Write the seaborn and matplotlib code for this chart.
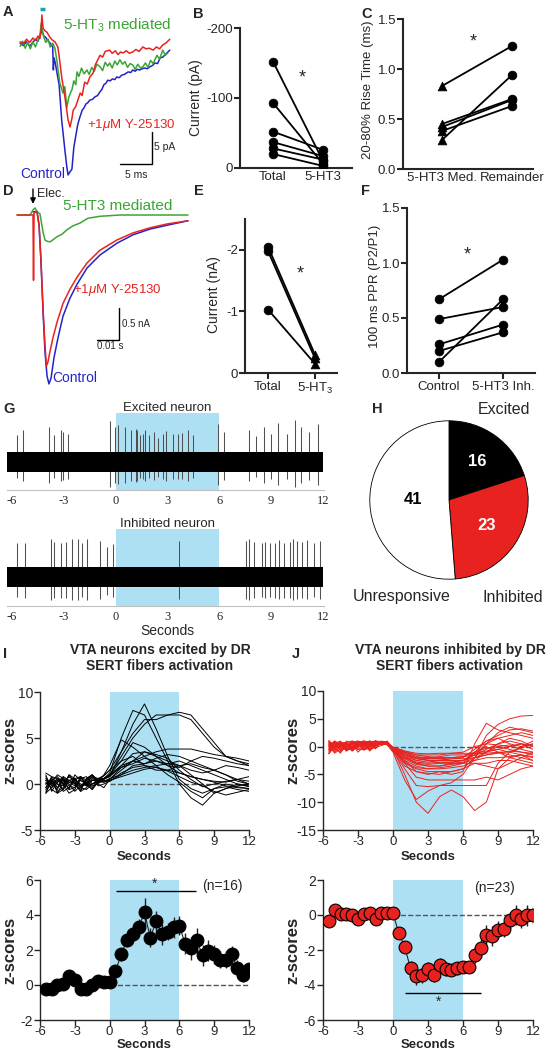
import numpy as np
import pandas as pd
import matplotlib
matplotlib.use("Agg")
import matplotlib.pyplot as plt
import seaborn as sns

# ======================= DATA =======================
# Panel A : evoked currents (time in ms, current in pA)
A_t_ctrl = [0.8, 1.3, 1.8, 2.3, 2.8, 3.2, 3.6, 3.9, 4.2, 4.5, 4.8, 5.2, 5.5, 5.9, 6.0,
            6.1, 6.3, 6.5, 6.9, 7.3, 7.8, 8.1, 8.3, 8.6, 8.9, 9.2, 9.4, 9.8, 10.1, 10.5,
            10.8, 11.1, 11.4, 11.7, 12.1, 12.5, 12.9, 13.3, 13.6, 13.9, 14.2, 14.5, 14.9, 15.2, 15.6,
            15.9, 16.3, 16.7, 17.1, 17.7, 18.1, 18.4, 18.8, 19.1, 19.5, 19.9, 20.3, 20.7, 21.1, 21.5,
            21.9, 22.3, 22.7, 23.1, 23.5, 23.8, 24.2]
A_ctrl = [0.3, -0.1, 0.5, -0.2, 0.4, 0.9, 0.6, 1.5, 2.3, 1.4, 1.2, 0.6, 0.3, -0.3, -3.9,
          -2.0, -2.8, -4.0, -6.2, -11.7, -16.4, -19.0, -20.3, -19.8, -19.4, -16.0, -14.8, -12.5, -11.4, -10.2,
          -9.8, -9.2, -9.0, -8.6, -8.5, -8.1, -7.9, -7.3, -6.9, -6.2, -6.0, -5.5, -5.6, -5.3, -5.4,
          -5.0, -5.1, -4.7, -4.6, -4.2, -4.3, -3.9, -4.1, -3.8, -3.9, -3.7, -3.6, -3.7, -3.4, -3.2,
          -2.8, -2.9, -2.0, -1.9, -1.5, -1.2, -0.8]
A_t_red = [0.8, 1.3, 1.8, 2.3, 2.8, 3.2, 3.6, 3.9, 4.1, 4.2, 4.4, 4.7, 5.0, 5.4, 5.8,
           6.25, 6.7, 7.0, 7.3, 7.8, 8.3, 8.6, 8.9, 9.1, 9.5, 10.2, 10.5, 10.9, 11.3, 11.7,
           12.2, 12.6, 13.0, 13.3, 13.7, 14.1, 14.8, 15.2, 15.7, 16.1, 16.5, 16.9, 17.4, 17.9, 18.4,
           18.9, 19.4, 20.0, 20.5, 21.0, 21.6, 22.1, 22.6, 23.1, 23.6, 24.2]
A_red = [0.5, 0.2, 0.9, 0.4, 1.1, 0.7, 1.4, 1.0, 2.5, 4.7, 2.6, 2.2, 2.0, 1.3, 0.8,
         0.5, -0.3, -2.5, -5.0, -8.1, -11.7, -12.8, -11.5, -10.2, -9.6, -7.5, -7.9, -5.8, -6.1, -5.0,
         -4.4, -3.0, -2.2, -1.6, -1.9, -1.0, -0.8, -1.3, -0.9, -1.5, -1.1, -1.25, -0.9, -1.3, -1.1,
         -0.7, -1.0, -0.3, -0.6, -0.5, -0.8, -0.3, -0.6, 0.0, 0.3, 0.9]
A_t_green = [0.8, 1.2, 1.6, 2.0, 2.4, 2.8, 3.2, 3.6, 3.9, 4.1, 4.4, 4.8, 5.2, 5.5, 5.9,
             6.25, 6.6, 7.0, 7.5, 7.8, 8.1, 8.4, 8.7, 8.9, 9.2, 9.5, 9.7, 10.0, 10.4, 10.8,
             11.25, 11.6, 12.0, 12.4, 12.8, 13.3, 13.7, 14.1, 14.5, 14.8, 15.2, 15.6, 16.0, 16.4, 16.8,
             17.2, 17.6, 18.0, 18.4, 18.8, 19.2, 19.6, 20.0, 20.4, 20.8, 21.2, 21.6, 22.2, 22.6, 23.1,
             23.5, 23.9]
A_green = [-0.2, 0.6, -0.5, 0.4, -0.6, 0.5, -0.3, 0.8, 1.5, 3.4, 1.6, 0.4, 0.9, -0.3, 0.3,
           -0.5, -2.8, -5.9, -7.5, -6.5, -9.8, -8.2, -7.4, -7.0, -5.6, -6.2, -4.2, -4.9, -3.6, -4.5,
           -3.9, -4.6, -3.5, -4.1, -3.0, -3.4, -4.0, -2.7, -3.3, -2.8, -3.6, -2.5, -3.1, -2.3, -3.0,
           -2.6, -3.5, -2.9, -3.1, -3.8, -3.0, -3.6, -3.4, -2.8, -3.5, -2.4, -2.9, -1.6, -2.2, -0.8,
           -1.6, -1.25]

# Panel B
B_groups = ["Total", "5-HT3"]
B_total = [-152, -93, -52, -37, -28, -20]
B_5ht3 = [-10, -6, -26, -17, -12, -3]

# Panel C
C_groups = ["5-HT3 Med.", "Remainder"]
C_med = [0.83, 0.29, 0.45, 0.42, 0.38]
C_rem = [1.23, 0.94, 0.70, 0.69, 0.63]

# Panel D (time in ms, current in nA)
D_t_green = [-7.6, -1.4, 0.0, 1.0, 1.9, 3.3, 4.8, 5.7, 6.7, 8.1, 10.0, 11.4, 13.8, 16.2, 19.0,
             22.4, 26.2, 31.9, 41.4, 55.7, 73.8]
D_green = [0.0, 0.0, 0.08, 0.11, 0.05, 0.02, -0.27, -0.39, -0.41, -0.42, -0.375, -0.34, -0.30, -0.23, -0.17,
           -0.125, -0.05, -0.02, 0.0, 0.0, 0.0]
D_t_red = [-7.6, 0.0, 0.25, 0.5, 1.9, 2.9, 3.8, 4.8, 5.7, 6.4, 7.1, 8.1, 9.5, 11.4, 14.3,
           17.6, 21.0, 25.7, 31.9, 40.0, 47.6, 55.7, 63.8, 73.8]
D_red = [0.0, 0.0, -1.02, 0.03, 0.06, -0.16, -0.70, -1.48, -2.03, -2.36, -2.30, -2.13, -1.92, -1.68, -1.38,
         -1.16, -0.97, -0.75, -0.55, -0.39, -0.28, -0.20, -0.14, -0.09]
D_t_ctrl = [0.0, 1.9, 2.9, 3.8, 4.8, 5.7, 6.7, 7.6, 8.6, 10.0, 11.9, 14.3, 17.6, 21.0, 25.7,
            31.9, 40.0, 47.6, 55.7, 63.8, 73.8]
D_ctrl = [0.05, 0.05, -0.16, -0.73, -1.52, -2.14, -2.52, -2.64, -2.55, -2.23, -1.92, -1.58, -1.30, -1.08, -0.83,
          -0.625, -0.44, -0.31, -0.22, -0.16, -0.09]

# Panel E
E_groups = ["Total", "5-HT$_3$"]
E_total = [-2.05, -1.98, -1.03]
E_5ht3 = [-0.30, -0.24, -0.15]

# Panel F
F_groups = ["Control", "5-HT3 Inh."]
F_ctrl = [0.67, 0.49, 0.26, 0.20, 0.10]
F_inh = [1.03, 0.60, 0.44, 0.37, 0.67]

# Panel G : spike times (s) and spike amplitudes (a.u.)
G_ticks = [-6, -3, 0, 3, 6, 9, 12]
G_trace_span = [-6.3, 12.0]
G_exc_spikes = [-5.69, -5.34, -3.84, -3.57, -3.16, -3.03, -2.74, -0.33, -0.04, 0.15, 0.54, 0.87, 1.16,
                1.25, 1.41, 1.56, 1.70, 1.95, 2.22, 2.47, 2.76, 2.89, 3.34, 3.63, 3.86, 4.20, 4.49,
                5.94, 6.27, 7.73, 8.12, 8.60, 8.97, 9.41, 9.90, 10.38, 10.75, 11.2, 11.7]
G_exc_amp = [2.67, 3.23, 3.5, 2.67, 3.17, 3.0, 2.77, 4.1, 3.5, 3.67, 3.5, 3.17, 3.33,
             3.17, 2.67, 2.83, 3.17, 2.67, 3.0, 2.43, 2.83, 3.1, 2.83, 2.77, 2.9, 3.17, 2.67,
             3.83, 3.0, 3.17, 2.57, 3.5, 2.83, 3.9, 2.83, 4.17, 3.5, 3.0, 3.8]
G_inh_spikes = [-5.73, -5.25, -3.74, -3.57, -3.18, -2.89, -2.55, -2.20, -1.93, -1.64, -0.91, -0.48, -0.17,
                3.66, 7.52, 7.73, 8.00, 8.45, 8.64, 8.93, 9.22, 9.47, 9.76, 10.09, 10.28, 10.51,
                10.8, 11.1, 11.5, 11.8]
G_inh_amp = [3.37, 3.43, 3.77, 3.53, 3.43, 3.53, 3.77, 3.77, 3.37, 3.77, 3.63, 3.03, 3.3,
             3.6, 3.63, 3.77, 3.53, 3.37, 3.53, 3.37, 3.43, 3.7, 3.43, 3.53, 3.77, 3.63,
             3.5, 3.7, 3.4, 3.6]

# Panel H
H_labels = ["Excited", "Inhibited", "Unresponsive"]
H_counts = [16, 23, 41]

# Panels I / J
STIM_ON, STIM_OFF = 0, 6
t_ind = [-5.5, -5, -4.5, -4, -3.5, -3, -2.5, -2, -1.5, -1, -0.5, 0,
         1, 2, 3, 4, 5, 6, 7, 8, 9, 10, 11, 12]
I_traces = [
    [-0.6, 0.4, -0.8, -0.4, 1.0, 0.6, -0.2, 0.0, 0.8, 0.2, 0.6, 0.8, 3.5, 6.5, 8.7, 6.0, 3.0, 0.5, -0.5, -1.0, -0.5, -0.3, -0.6, -0.8],
    [1.0, -0.8, 0.2, 0.6, -0.6, -0.4, 0.8, 0.4, -0.2, 0.0, 0.6, 1.2, 5.0, 8.0, 7.5, 5.0, 2.5, 0.0, -1.5, -2.3, -1.0, -0.5, -0.2, 0.0],
    [0.0, 0.6, -1.0, -0.6, 0.4, 0.2, -0.4, 0.4, 1.0, 0.4, 0.9, 1.5, 3.5, 5.5, 7.0, 7.0, 7.5, 7.8, 7.5, 6.0, 4.5, 3.0, 2.5, 2.2],
    [-1.0, 0.4, 0.8, 0.0, -1.0, -0.6, 0.6, 0.2, -0.4, 0.6, 0.6, 1.0, 3.0, 5.0, 6.5, 7.5, 7.5, 7.5, 7.0, 5.5, 4.0, 3.0, 2.5, 2.0],
    [0.4, 0.0, -0.6, 0.8, 0.2, 0.2, -0.8, -0.4, 0.4, 0.3, 1.0, 2.0, 4.8, 4.0, 3.0, 2.0, 1.0, 0.2, -0.8, -1.5, -0.5, 0.0, -0.3, -0.5],
    [0.2, -0.4, 0.6, 0.4, -0.6, 1.0, 0.4, 0.0, -0.6, 0.4, 0.2, 0.5, 1.5, 2.5, 3.0, 3.5, 3.8, 3.8, 3.8, 3.5, 3.2, 3.0, 2.8, 2.5],
    [-0.4, 0.8, 0.0, -0.2, 1.0, 0.0, -0.8, 0.6, 1.0, 0.3, 0.6, 1.0, 2.0, 2.5, 2.2, 2.8, 3.2, 3.0, 2.5, 2.0, 1.5, 1.0, 0.5, 0.3],
    [0.6, -0.6, -1.0, 0.2, 0.8, 0.4, 0.0, -0.2, 0.6, 0.0, -0.4, 0.5, 1.8, 2.5, 3.5, 3.0, 2.5, 2.0, 1.0, 0.0, -1.0, -0.5, 0.0, -0.3],
    [-0.8, 0.2, 1.0, 0.6, -0.2, -0.4, 0.4, 0.0, -0.6, 0.2, 0.4, 0.3, 1.0, 2.0, 2.2, 2.5, 2.0, 1.8, 2.5, 3.0, 2.8, 2.5, 2.2, 2.0],
    [0.0, 0.4, 0.0, -0.6, 0.4, 0.6, -0.2, 0.2, 0.8, 0.6, 0.9, 1.5, 2.5, 3.0, 2.0, 1.5, 1.5, 2.0, 2.2, 1.8, 1.5, 1.0, 0.3, 0.0],
    [1.2, 0.8, 0.6, 0.0, -0.4, 0.4, 0.8, -0.2, 0.0, 0.4, 0.5, 0.8, 2.0, 3.3, 3.5, 3.2, 2.8, 1.5, 0.5, -0.3, 0.0, 0.3, 0.5, 0.8],
    [-1.0, -0.4, 0.2, 0.8, 0.4, 0.0, -0.6, 0.6, 1.0, -0.2, 0.0, 0.3, 1.2, 1.8, 2.0, 1.8, 1.5, 1.2, 0.8, 0.5, 0.3, 0.2, 0.5, 0.0],
    [0.4, 0.0, 0.6, -0.8, -0.4, 0.6, 0.8, 0.0, 0.4, 0.4, 0.6, 0.9, 1.8, 2.2, 2.8, 2.5, 2.2, 2.0, 1.5, 1.2, 1.5, 2.0, 1.8, 1.5],
    [-0.4, 0.6, -0.4, 0.4, 0.2, -0.2, 0.6, 0.8, 0.0, 0.4, 0.3, 0.6, 1.0, 1.5, 1.8, 2.0, 2.2, 2.5, 2.0, 1.5, 1.0, 0.5, 0.0, -0.2],
    [0.8, -0.2, 0.4, 0.0, 0.8, 0.4, -0.4, -0.6, 0.0, 0.2, 0.2, 0.4, 0.8, 1.2, 1.6, 1.8, 1.4, 0.8, 0.2, -0.2, -0.8, -1.2, -0.9, -0.6],
    [0.0, 0.2, -0.4, 0.6, 0.0, -0.8, -0.2, 0.4, 0.8, 0.3, 0.5, 1.0, 2.5, 4.5, 4.0, 3.0, 2.0, 1.2, 0.8, 0.5, 0.2, -0.2, -0.4, -0.5],
]
J_traces = [
    [0.4, -1.0, 0.0, 0.6, -0.8, 0.0, 0.6, 1.0, 0.4, 0.8, 0.6, -0.5, -5.0, -10.0, -12.0, -9.0, -7.8, -9.0, -11.5, -10.0, -4.0, -2.0, -1.5, -2.5],
    [-1.0, 0.6, 1.0, -0.4, 0.0, 0.8, -0.6, 0.4, 1.0, 0.6, 0.3, -1.0, -6.0, -9.5, -8.0, -7.0, -6.5, -5.0, -2.0, 2.0, 4.0, 5.0, 5.5, 5.6],
    [0.8, 0.0, -1.2, 1.0, 0.4, -0.6, 0.2, 0.6, 0.0, 1.0, 0.8, -0.8, -4.0, -7.0, -7.2, -7.0, -7.0, -7.0, -7.0, -7.0, -3.0, -1.0, 0.0, 1.0],
    [-1.3, 0.4, -0.6, 0.0, 0.8, 1.0, 0.2, 0.0, 0.6, 0.5, 0.4, -0.5, -3.0, -5.5, -6.0, -6.0, -6.0, -6.0, -6.0, -5.5, -6.0, -5.0, -4.0, -3.5],
    [0.0, -0.6, 0.4, 0.8, -0.2, 0.4, 1.0, -0.4, 0.2, 0.7, 0.9, -0.3, -2.5, -4.5, -5.0, -4.5, -5.0, -4.5, 0.5, 4.2, 3.0, 2.5, 2.0, 1.5],
    [1.0, 0.2, 0.6, -0.8, 0.0, 0.6, -0.4, 0.8, 1.0, 0.3, 0.5, -0.6, -3.0, -4.0, -4.5, -4.5, -4.5, -4.0, -2.0, 0.5, 2.5, 3.5, 3.0, 2.5],
    [-0.6, 1.0, -0.2, 0.4, 0.6, -1.0, 0.0, 0.2, 0.8, 0.9, 0.7, -0.2, -2.0, -3.0, -3.5, -3.5, -3.0, -3.0, -3.0, -3.0, -2.5, -2.5, -3.0, -3.5],
    [0.2, -1.2, -0.4, 0.0, 1.0, 0.6, 0.2, 1.0, 0.4, 0.4, 0.8, -0.4, -1.5, -2.5, -2.8, -2.5, -2.5, -2.5, -1.0, 1.0, 2.0, 3.0, 3.2, 2.8],
    [-0.8, 0.4, 0.8, 0.6, -0.4, 0.0, 0.6, -0.6, 0.0, 0.6, 0.5, -0.2, -1.2, -2.0, -2.2, -2.2, -2.0, -1.8, -1.5, -1.0, -0.5, 0.0, 0.5, 0.0],
    [0.6, 0.0, 0.4, -0.4, -0.6, 0.8, 1.0, 0.4, -0.2, 0.2, 0.6, -0.5, -1.8, -3.0, -3.2, -3.0, -2.8, -2.5, -1.5, -0.5, 0.5, 1.0, 0.5, -0.5],
    [-0.4, 0.8, -0.8, 0.2, 0.4, -0.2, 0.4, 1.0, 0.6, 0.5, 0.7, -0.3, -1.0, -1.5, -1.8, -2.0, -2.0, -1.8, -1.0, -0.3, 0.0, 0.3, -0.5, -1.0],
    [1.1, -0.4, 0.0, 0.6, -0.6, 0.4, 0.8, -0.8, 0.2, 0.8, 0.6, -0.1, -0.8, -1.2, -1.3, -1.2, -1.2, -1.2, -1.2, -1.2, -1.0, -1.0, -1.5, -2.0],
    [-1.2, 0.2, 0.8, -0.6, 0.0, 0.8, -0.4, 0.6, 1.0, 0.4, 0.9, -0.7, -2.5, -3.5, -4.0, -3.8, -3.5, -3.0, -1.0, 0.0, -1.0, -2.0, -2.5, -3.0],
    [0.4, 0.6, -0.2, 0.8, 1.0, -0.4, -0.6, 0.0, 0.8, 0.7, 0.5, -0.4, -1.5, -2.2, -2.5, -2.5, -2.2, -2.0, -0.5, 1.0, 1.5, 0.5, 0.0, 0.5],
    [-0.2, -0.8, 0.6, 0.4, 0.0, 0.2, 1.0, 0.8, 0.4, 0.5, 0.8, -0.6, -2.0, -2.8, -3.0, -2.8, -2.8, -2.5, -2.0, -1.5, -1.0, -1.5, -2.0, -2.5],
    [0.8, 0.4, -0.6, -0.2, 0.6, 0.8, -0.4, -0.4, 0.6, 0.6, 0.4, -0.2, -1.0, -1.8, -2.0, -2.2, -2.5, -2.5, -1.5, 0.5, 1.5, 2.0, 2.5, 2.0],
    [-1.3, 0.0, 0.4, 0.6, -0.4, 0.2, 0.6, 0.4, 1.0, 0.3, 1.0, -0.5, -3.5, -4.5, -4.8, -5.0, -4.5, -4.0, -3.0, -3.5, -4.0, -3.0, -2.0, -1.0],
    [0.0, 0.8, 0.2, -0.6, 0.4, 1.0, 0.6, 0.2, -0.4, 0.8, 0.6, -0.3, -1.2, -2.0, -2.0, -1.8, -1.5, -1.5, -1.2, -0.8, -0.5, -1.0, -0.3, 0.5],
    [0.6, -0.4, -1.0, 0.0, 0.8, 0.2, 1.0, 0.0, 0.8, 0.4, 0.9, -0.8, -2.2, -3.2, -3.5, -3.5, -3.2, -3.0, -2.0, -1.0, 0.5, 1.5, 1.0, 0.0],
    [-0.6, 0.6, 0.2, 0.8, -0.8, 0.4, 0.0, 0.8, 0.4, 0.6, 0.5, -0.4, -1.8, -2.5, -2.2, -2.0, -2.0, -2.2, -2.0, -1.5, -1.2, -0.8, -1.0, -1.2],
    [1.0, -0.2, 0.4, -0.4, 0.6, 0.4, -0.6, -0.2, 0.6, 0.5, 0.7, -0.1, -0.8, -1.5, -1.5, -1.5, -1.2, -1.0, 0.0, 0.5, 0.3, 0.0, 0.5, 0.2],
    [-0.4, 0.2, -0.6, 0.4, 0.0, 0.6, 0.8, 0.8, 0.2, 0.7, 0.8, -0.3, -2.8, -3.8, -4.0, -4.0, -3.8, -3.5, -2.5, -1.0, 0.0, -0.5, -1.0, -1.5],
    [0.2, 1.0, 0.4, -0.8, -0.2, 0.0, 0.4, 0.0, 1.0, 0.9, 0.6, -0.2, -1.5, -2.0, -2.5, -3.0, -3.0, -2.8, -2.5, -2.0, -2.0, -1.8, -1.5, -1.8],
]
t_mean = [-5.5, -5.0, -4.5, -4.0, -3.5, -3.0, -2.5, -2.0, -1.5, -1.0, -0.5, 0.0,
          0.5, 1.0, 1.5, 2.0, 2.5, 3.0, 3.5, 4.0, 4.5, 5.0, 5.5, 6.0,
          6.5, 7.0, 7.5, 8.0, 8.5, 9.0, 9.5, 10.0, 10.5, 11.0, 11.5, 12.0]
I_mean = [-0.25, -0.2, 0.0, 0.05, 0.5, 0.3, -0.25, -0.25, 0.0, 0.25, 0.15, 0.15,
          0.8, 1.75, 2.6, 2.9, 3.3, 4.15, 2.7, 3.65, 2.9, 3.05, 3.3, 3.4,
          2.35, 2.1, 2.55, 1.7, 1.95, 1.75, 1.45, 1.45, 1.75, 1.0, 0.6, 0.9]
I_sem = [0.12, 0.12, 0.12, 0.15, 0.2, 0.15, 0.12, 0.15, 0.15, 0.15, 0.12, 0.15,
         0.25, 0.35, 0.4, 0.45, 0.5, 0.8, 0.55, 0.6, 0.6, 0.5, 0.6, 0.55,
         0.6, 0.65, 0.7, 0.6, 0.6, 0.55, 0.5, 0.5, 0.5, 0.45, 0.4, 0.3]
J_mean = [-0.32, 0.3, 0.05, 0.05, 0.0, -0.25, 0.05, 0.1, -0.2, 0.1, 0.1, 0.1,
          -1.05, -1.8, -3.05, -3.5, -3.45, -3.1, -3.4, -2.85, -3.1, -3.15, -3.05, -2.95,
          -2.95, -2.3, -1.9, -1.15, -1.2, -0.85, -0.8, -0.3, 0.0, -0.25, 0.0, 0.0]
J_sem = [0.1, 0.12, 0.1, 0.1, 0.1, 0.12, 0.1, 0.1, 0.12, 0.1, 0.1, 0.1,
         0.2, 0.3, 0.4, 0.5, 0.45, 0.4, 0.45, 0.4, 0.4, 0.35, 0.35, 0.3,
         0.35, 0.45, 0.55, 0.6, 0.55, 0.5, 0.45, 0.5, 0.55, 0.5, 0.6, 0.5]
I_sig = [0.57, 7.47]
J_sig = [1.0, 7.5]

# ======================= STYLE =======================
sns.set_style("ticks")
plt.rcParams['font.family'] = ['Liberation Sans', 'DejaVu Sans']
plt.rcParams['axes.unicode_minus'] = False
plt.rcParams['mathtext.fontset'] = 'custom'
plt.rcParams['mathtext.rm'] = 'Liberation Sans'
plt.rcParams['mathtext.it'] = 'Liberation Sans:italic'
plt.rcParams['mathtext.bf'] = 'Liberation Sans:bold'

GREEN = '#3aa535'
RED = '#e8231f'
BLUE = '#2323c8'
STIM = '#aee0f4'

W, H = 553, 1050
fig = plt.figure(figsize=(W / 100, H / 100), dpi=100)


def add_ax(x0, y0, x1, y1):
    return fig.add_axes([x0 / W, 1 - y1 / H, (x1 - x0) / W, (y1 - y0) / H])


def ftext(x, y, s, **kw):
    fig.text(x / W, 1 - y / H, s, **kw)


def ylab_coords(ax, px, py, x0, x1, y0, y1):
    ax.yaxis.set_label_coords((px - x0) / (x1 - x0), (y1 - py) / (y1 - y0))


# panel letters
for lab, (x, y) in {'A': (3, 5), 'B': (193, 7), 'C': (361, 7), 'D': (3, 184), 'E': (194, 184),
                    'F': (361, 184), 'G': (3, 402), 'H': (372, 402), 'I': (3, 647), 'J': (292, 647)}.items():
    ftext(x, y, lab, fontsize=10.5, fontweight='bold', ha='left', va='top')

# ======================= PANEL A =======================
axA = add_ax(10, 5, 180, 182)
axA.axis('off')
for tt, vv, c in [(A_t_ctrl, A_ctrl, BLUE), (A_t_green, A_green, GREEN), (A_t_red, A_red, RED)]:
    sns.lineplot(x=tt, y=vv, color=c, lw=1.1, ax=axA, estimator=None, sort=False)
axA.set_xlim(-0.78, 25.8)
axA.set_ylim(-21.4, 6.25)
axA.plot([3.9, 4.7], [5.6, 5.6], color='#1aa0b8', lw=2.5, solid_capstyle='butt')
axA.plot([16.4, 21.4, 21.4], [-18.6, -18.6, -13.6], color='black', lw=1.0)
axA.text(21.7, -15.9, '5 pA', fontsize=7.5, va='center', ha='left')
axA.text(17.2, -20.3, '5 ms', fontsize=7.5, va='center', ha='left')
axA.text(7.5, 3.1, '5-HT$_3$ mediated', color=GREEN, fontsize=11, va='center', ha='left')
axA.text(11.25, -12.5, '+1$\\mu$M Y-25130', color=RED, fontsize=9.5, va='center', ha='left')
axA.text(0.8, -20.1, 'Control', color=BLUE, fontsize=10, va='center', ha='left')


# ======================= PAIRED PANELS =======================
def paired(ax, left, right, mk_l, mk_r, ms=40):
    n = len(left)
    df = pd.DataFrame({'x': [0] * n + [1] * n, 'y': list(left) + list(right), 'id': list(range(n)) * 2})
    sns.lineplot(data=df, x='x', y='y', units='id', estimator=None, color='black', lw=1.3,
                 ax=ax, legend=False)
    sns.scatterplot(x=[0] * n, y=left, marker=mk_l, color='black', edgecolor='black', s=ms, ax=ax,
                    zorder=3, legend=False)
    sns.scatterplot(x=[1] * n, y=right, marker=mk_r, color='black', edgecolor='black', s=ms, ax=ax,
                    zorder=3, legend=False)


def style_pair(ax, xlim, ylim, yticks, ylabels, xlabels, ylabel, xtl, ylfs=10):
    ax.set_xlim(*xlim)
    ax.set_ylim(*ylim)
    sns.despine(ax=ax)
    for s in ['left', 'bottom']:
        ax.spines[s].set_linewidth(1.5)
    ax.set_yticks(yticks)
    ax.set_yticklabels(ylabels, fontsize=9.5)
    ax.set_xticks([0, 1])
    ax.set_xticklabels(xlabels, fontsize=9.5)
    ax.tick_params(axis='y', length=4, width=1.5, pad=1)
    ax.tick_params(axis='x', length=xtl, width=1.5, pad=2)
    ax.set_xlabel('')
    ax.set_ylabel(ylabel, fontsize=ylfs, va='center')


# B
axB = add_ax(240, 28, 352, 168)
paired(axB, B_total, B_5ht3, 'o', 'o')
style_pair(axB, (-0.66, 1.58), (0, -200), [-200, -100, 0], ['-200', '-100', '0'], B_groups,
           'Current (pA)', 0)
ylab_coords(axB, 196, 98, 240, 352, 28, 168)
axB.text(0.58, -128, '*', fontsize=13, ha='center', va='center')

# C
axC = add_ax(403, 19, 533, 169)
paired(axC, C_med, C_rem, '^', 'o')
style_pair(axC, (-0.557, 1.3), (0, 1.5), [0, 0.5, 1.0, 1.5], ['0.0', '0.5', '1.0', '1.5'], C_groups,
           '20-80% Rise Time (ms)', 0, ylfs=9.5)
ylab_coords(axC, 368, 90, 403, 533, 19, 169)
axC.text(0.44, 1.27, '*', fontsize=13, ha='center', va='center')

# E
axE = add_ax(245, 219, 337, 373)
paired(axE, E_total, E_5ht3, 'o', '^')
style_pair(axE, (-0.49, 1.47), (0, -2.5), [-2, -1, 0], ['-2', '-1', '0'], E_groups,
           'Current (nA)', 4)
ylab_coords(axE, 214, 295, 245, 337, 219, 373)
axE.text(0.68, -1.6, '*', fontsize=13, ha='center', va='center')

# F
axF = add_ax(407, 208, 535, 373)
paired(axF, F_ctrl, F_inh, 'o', 'o')
style_pair(axF, (-0.5, 1.5), (0, 1.5), [0, 0.5, 1.0, 1.5], ['0.0', '0.5', '1.0', '1.5'], F_groups,
           '100 ms PPR (P2/P1)', 4, ylfs=9.5)
ylab_coords(axF, 375, 286, 407, 535, 208, 373)
axF.text(0.44, 1.07, '*', fontsize=13, ha='center', va='center')

# ======================= PANEL D =======================
axD = add_ax(10, 185, 190, 392)
axD.axis('off')
for tt, vv, c in [(D_t_ctrl, D_ctrl, BLUE), (D_t_green, D_green, GREEN), (D_t_red, D_red, RED)]:
    sns.lineplot(x=tt, y=vv, color=c, lw=1.1, ax=axD, estimator=None, sort=False)
axD.set_xlim(-10.95, 74.76)
axD.set_ylim(-2.766, 0.469)
axD.plot([30.5, 41.0, 41.0], [-1.95, -1.95, -1.45], color='black', lw=1.0)
axD.text(42.4, -1.70, '0.5 nA', fontsize=7, va='center', ha='left')
axD.text(30.5, -2.05, '0.01 s', fontsize=7, va='center', ha='left')
axD.annotate('', xy=(0, 0.13), xytext=(0, 0.45),
             arrowprops=dict(arrowstyle='-|>', color='black', lw=1.0, mutation_scale=8))
axD.text(1.9, 0.33, 'Elec.', fontsize=9, va='center', ha='left')
axD.text(14.3, 0.14, '5-HT3 mediated', color=GREEN, fontsize=11, va='center', ha='left')
axD.text(19.0, -1.17, '+1$\\mu$M Y-25130', color=RED, fontsize=9.5, va='center', ha='left')
axD.text(9.0, -2.55, 'Control', color=BLUE, fontsize=10, va='center', ha='left')


# ======================= PANEL G =======================
def spike_panel(y0, y1, ylim, spikes, amps, title, ty):
    ax = add_ax(7, y0, 324, y1)
    ax.set_xlim(-6.29, 12.06)
    ax.set_ylim(*ylim)
    ax.axvspan(STIM_ON, STIM_OFF, color=STIM, lw=0, zorder=0)
    ax.fill_between(G_trace_span, [-1, -1], [1, 1], color='black', lw=0, zorder=2)
    ax.vlines(spikes, [-0.6 * a for a in amps], amps, color='#505050', lw=0.75, zorder=1)
    for s in ['left', 'right', 'top']:
        ax.spines[s].set_visible(False)
    ax.spines['bottom'].set_color('#c0c0c0')
    ax.spines['bottom'].set_linewidth(0.8)
    ax.set_yticks([])
    ax.set_xticks(G_ticks)
    ax.set_xticklabels([str(v) for v in G_ticks], family='Liberation Serif', fontsize=9)
    ax.tick_params(axis='x', length=0, pad=3.5)
    ftext(167, ty, title, fontsize=9.5, ha='center', va='center')
    return ax


spike_panel(413, 490, (-2.8, 4.9), G_exc_spikes, G_exc_amp, 'Excited neuron', 408)
spike_panel(529, 606, (-2.9, 4.8), G_inh_spikes, G_inh_amp, 'Inhibited neuron', 524)
ftext(167, 631, 'Seconds', fontsize=10, ha='center', va='center')

# ======================= PANEL H =======================
axH = add_ax(369, 420, 529, 580)
axH.pie(H_counts, colors=['black', RED, 'white'], startangle=90, counterclock=False,
        wedgeprops=dict(edgecolor='black', linewidth=0.6))
axH.set_xlim(-1.01, 1.01)
axH.set_ylim(-1.01, 1.01)
ftext(477, 462, str(H_counts[0]), color='white', fontsize=12, fontweight='bold', ha='center', va='center')
ftext(487, 526, str(H_counts[1]), color='white', fontsize=12, fontweight='bold', ha='center', va='center')
ftext(413, 500, str(H_counts[2]), color='black', fontsize=12, fontweight='bold', ha='center', va='center')
ftext(504, 409, H_labels[0], fontsize=11.5, ha='center', va='center')
ftext(513, 597, H_labels[1], fontsize=11.5, ha='center', va='center')
ftext(402, 597, H_labels[2], fontsize=11.5, ha='center', va='center')


# ======================= PANELS I / J =======================
def zstyle(ax, ylim, yticks, x0, x1, y0, y1, zx, zy, sy):
    ax.set_xlim(-6, 12)
    ax.set_ylim(*ylim)
    sns.despine(ax=ax)
    for s in ['left', 'bottom']:
        ax.spines[s].set_linewidth(1.0)
    ax.set_xticks([-6, -3, 0, 3, 6, 9, 12])
    ax.set_xticklabels(['-6', '-3', '0', '3', '6', '9', '12'], fontsize=9.5)
    ax.set_yticks(yticks)
    ax.set_yticklabels([str(v) for v in yticks], fontsize=10)
    ax.tick_params(length=4, width=1.0, pad=1)
    ax.tick_params(axis='x', pad=0.3)
    ax.set_ylabel('z-scores', fontsize=12, fontweight='bold', va='center')
    ax.yaxis.set_label_coords((zx - x0) / (x1 - x0), (y1 - zy) / (y1 - y0))
    ax.set_xlabel('Seconds', fontsize=9.5, fontweight='bold', va='center')
    ax.xaxis.set_label_coords(0.5, (y1 - sy) / (y1 - y0))


def traces(ax, tr, color):
    rows = []
    for k, v in enumerate(tr):
        for t, z in zip(t_ind, v):
            rows.append((k, t, z))
    df = pd.DataFrame(rows, columns=['unit', 't', 'z'])
    ax.axvspan(STIM_ON, STIM_OFF, color=STIM, lw=0, zorder=0)
    ax.hlines(0, STIM_ON, 12, colors='#555555', linestyles='--', lw=1.0, zorder=1)
    sns.lineplot(data=df, x='t', y='z', units='unit', estimator=None, color=color, lw=0.7, ax=ax,
                 legend=False, zorder=2)


def means(ax, m, se, fc):
    ax.axvspan(STIM_ON, STIM_OFF, color=STIM, lw=0, zorder=0)
    ax.hlines(0, STIM_ON, 12, colors='#555555', linestyles='--', lw=1.0, zorder=1)
    ax.errorbar(t_mean, m, yerr=se, fmt='none', ecolor='#222222', elinewidth=1.0, capsize=0, zorder=2)
    sns.lineplot(x=t_mean, y=m, color='#222222', lw=0.8, ax=ax, estimator=None, zorder=2)
    sns.scatterplot(x=t_mean, y=m, color=fc, edgecolor='black', linewidth=0.8, s=85, ax=ax,
                    zorder=3, legend=False)


# I top
axI1 = add_ax(40, 692, 249, 830)
traces(axI1, I_traces, 'black')
zstyle(axI1, (-5, 10), [-5, 0, 5, 10], 40, 249, 692, 830, 10, 750, 857)
ftext(160, 658, 'VTA neurons excited by DR\nSERT fibers activation', fontsize=10, fontweight='bold',
      ha='center', va='center', linespacing=1.2)
# I bottom
axI2 = add_ax(40, 880, 249, 1020)
means(axI2, I_mean, I_sem, 'black')
zstyle(axI2, (-2, 6), [-2, 0, 2, 4, 6], 40, 249, 880, 1020, 10, 950, 1045)
axI2.hlines(5.37, I_sig[0], I_sig[1], colors='black', lw=1.0)
axI2.text(3.9, 5.37, '*', fontsize=10, ha='center', va='bottom')
axI2.text(9.74, 5.66, '(n=16)', fontsize=10, ha='center', va='center')

# J top
axJ1 = add_ax(323, 691, 533, 830)
traces(axJ1, J_traces, RED)
zstyle(axJ1, (-15, 10), [-15, -10, -5, 0, 5, 10], 323, 533, 691, 830, 293, 750, 857)
ftext(450, 658, 'VTA neurons inhibited by DR\nSERT fibers activation', fontsize=10, fontweight='bold',
      ha='center', va='center', linespacing=1.2)
# J bottom
axJ2 = add_ax(323, 880, 533, 1020)
means(axJ2, J_mean, J_sem, RED)
zstyle(axJ2, (-6, 2), [-6, -4, -2, 0, 2], 323, 533, 880, 1020, 293, 950, 1045)
axJ2.hlines(-4.46, J_sig[0], J_sig[1], colors='black', lw=1.0)
axJ2.text(3.94, -4.55, '*', fontsize=10, ha='center', va='top')
axJ2.text(8.66, 1.54, '(n=23)', fontsize=10, ha='center', va='center')

fig.savefig('out.png', dpi=100)
